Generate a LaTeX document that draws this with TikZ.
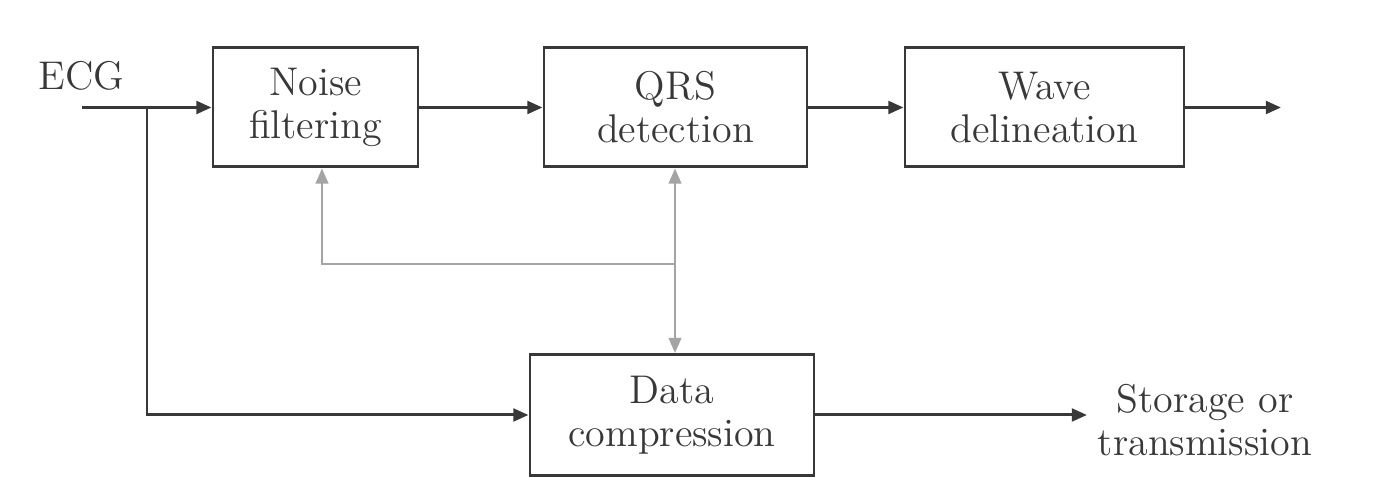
\documentclass[tikz,border=0pt]{standalone}
\usetikzlibrary{arrows.meta}
\definecolor{ink}{HTML}{383838}
\definecolor{fb}{HTML}{A4A4A4}
\begin{document}
\begin{tikzpicture}[
  every node/.style={font=\fontsize{11.4pt}{12.2pt}\selectfont, text=ink},
  blk/.style={draw=ink, line width=0.85pt, inner sep=0pt, align=center, minimum height=1.19cm},
  flow/.style={draw=ink, line width=0.85pt, -{Triangle[length=4.3pt,width=3.6pt]}},
  fbk/.style={draw=fb, line width=0.6pt, -{Triangle[length=4.3pt,width=3.6pt]}},
  fbk2/.style={draw=fb, line width=0.6pt, {Triangle[length=4.3pt,width=3.6pt]}-{Triangle[length=4.3pt,width=3.6pt]}}
]
\useasboundingbox (0,0) rectangle (13.9,5);
\node[blk, minimum width=2.05cm] (noise) at (3.155,3.925) {Noise\\filtering};
\node[blk, minimum width=2.63cm] (qrs) at (6.755,3.925) {QRS\\detection};
\node[blk, minimum width=2.79cm] (wave) at (10.445,3.925) {Wave\\delineation};
\node[blk, minimum width=2.84cm, minimum height=1.21cm] (data) at (6.72,0.85) {Data\\compression};
\node[anchor=base] (ecg) at (0.815,4.1) {ECG};
\node[align=center] (store) at (12.05,0.80) {Storage or\\transmission};
\coordinate (in) at (0.82,3.925);
\coordinate (br) at (1.47,3.925);
\coordinate (out) at (12.81,3.925);
\coordinate (dout) at (10.87,0.85);
\coordinate (j) at (6.75,2.36);
\coordinate (nf) at (3.22,2.36);
\draw[flow] (in) -- (noise.west);
\draw[flow] (br) |- (data.west);
\draw[flow] (noise) -- (qrs);
\draw[flow] (qrs) -- (wave);
\draw[flow] (wave) -- (out);
\draw[flow] (data) -- (dout);
\draw[fbk2] (qrs.south -| j) -- (data.north -| j);
\draw[fbk] (j) -- (nf) -- (nf |- noise.south);
\end{tikzpicture}
\end{document}
